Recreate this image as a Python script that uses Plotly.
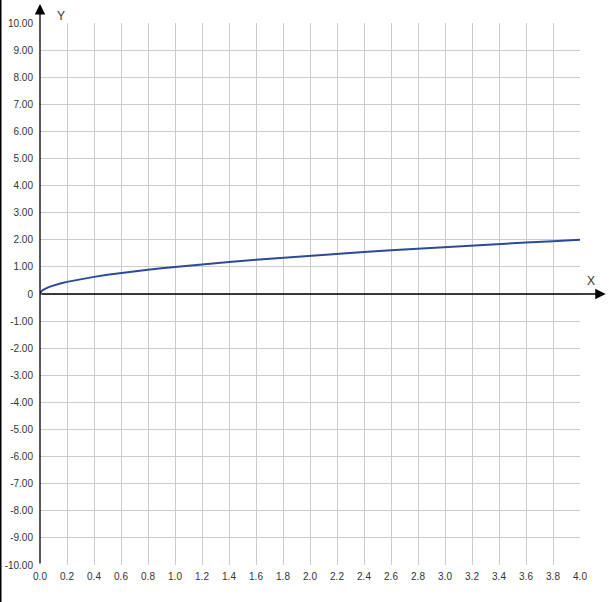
import plotly.graph_objects as go

# curve values
x_vals = [0, 0.005, 0.01, 0.02, 0.03, 0.04, 0.06, 0.08, 0.1, 0.15, 0.2, 0.25, 0.3, 0.4, 0.5, 0.6,
          0.7, 0.8, 0.9, 1.0, 1.2, 1.4, 1.6, 1.8, 2.0, 2.2, 2.4, 2.6, 2.8, 3.0, 3.2, 3.4, 3.6,
          3.8, 4.0]
y_vals = [0, 0.071, 0.10, 0.141, 0.173, 0.20, 0.245, 0.283, 0.316, 0.387, 0.447, 0.50, 0.548,
          0.632, 0.707, 0.775, 0.837, 0.894, 0.949, 1.00, 1.095, 1.183, 1.265, 1.342, 1.414,
          1.483, 1.549, 1.612, 1.673, 1.732, 1.789, 1.844, 1.897, 1.949, 2.00]

x_ticks = [round(i * 0.2, 1) for i in range(21)]
x_labels = ["%.1f" % v for v in x_ticks]
y_ticks = list(range(-10, 11))
y_labels = ["0" if v == 0 else "%.2f" % v for v in y_ticks]

FAM = "Liberation Sans, Arial, sans-serif"
font = dict(family=FAM, size=10, color="#333333")

fig = go.Figure()
fig.add_trace(go.Scatter(x=x_vals, y=y_vals, mode="lines",
                         line=dict(color="#2b4a99", width=2),
                         hoverinfo="skip", showlegend=False))

fig.update_layout(
    width=610, height=602,
    margin=dict(l=40, r=30, t=23, b=37),
    paper_bgcolor="white", plot_bgcolor="white",
    font=font,
    xaxis=dict(range=[0, 4], tickvals=x_ticks, ticktext=x_labels, automargin=False,
               showgrid=True, gridcolor="#cccccc", gridwidth=1,
               zeroline=False, showline=False, ticks="", ticklabelstandoff=4,
               fixedrange=True),
    yaxis=dict(range=[-10, 10], tickvals=y_ticks, ticktext=y_labels, automargin=False,
               showgrid=True, gridcolor="#cccccc", gridwidth=1,
               zeroline=False, showline=False, ticks="", ticklabelstandoff=6,
               fixedrange=True),
)

# left border of the picture
fig.add_shape(type="line", xref="paper", yref="paper",
              x0=(0.5 - 40) / 540, x1=(0.5 - 40) / 540, y0=-37 / 542, y1=1 + 23 / 542,
              line=dict(color="black", width=2))

# axis arrows
fig.add_annotation(x=4.19, y=0, ax=0, ay=0, xref="x", yref="y", axref="x", ayref="y",
                   showarrow=True, arrowhead=2, arrowsize=1.6, arrowwidth=1.3,
                   arrowcolor="black", text="")
fig.add_annotation(x=0, y=10.70, ax=0, ay=-10, xref="x", yref="y", axref="x", ayref="y",
                   showarrow=True, arrowhead=2, arrowsize=1.6, arrowwidth=1.3,
                   arrowcolor="black", text="")
fig.add_annotation(x=(597 - 40) / 540, y=(565 - 281) / 542, xref="paper", yref="paper",
                   text="X", showarrow=False, font=dict(family=FAM, size=12, color="#333333"))
fig.add_annotation(x=(55 - 40) / 540, y=(565 - 7) / 542, xref="paper", yref="paper",
                   text="Y", showarrow=False, font=dict(family=FAM, size=12, color="#333333"))

fig.write_html("out.html", config={"displayModeBar": False},
               post_script="document.body.style.margin='0';document.body.style.overflow='hidden';")
